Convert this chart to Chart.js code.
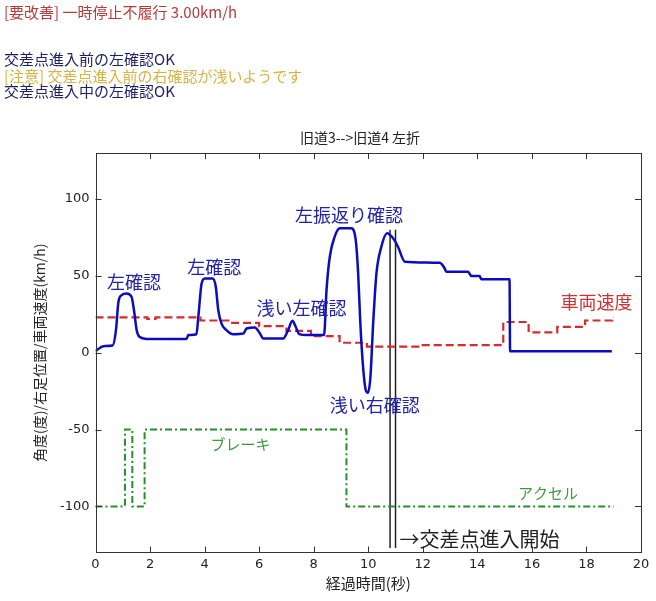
<!DOCTYPE html>
<html lang="ja">
<head>
<meta charset="UTF-8">
<title>旧道3-->旧道4 左折</title>
<script src="https://cdn.jsdelivr.net/npm/chart.js@4.4.1/dist/chart.umd.min.js"></script>
<style>
  body { margin: 0; background: #fff; font-family: "Noto Sans CJK JP", sans-serif; }
  #wrap { position: relative; width: 656px; height: 601px; }
  #chart { position: absolute; left: 0; top: 0; }
  .msg { position: absolute; left: 4px; font-size: 15px; line-height: 18px; white-space: nowrap; }
  .bad { color: #b83a3a; }
  .ok { color: #1e1e66; }
  .warn { color: #d6b443; }
</style>
</head>
<body>
<div id="wrap">
  <canvas id="chart" width="656" height="601"></canvas>
  <div class="msg bad" style="top:3px">[要改善] 一時停止不履行 3.00km/h</div>
  <div class="msg ok" style="top:50px">交差点進入前の左確認OK</div>
  <div class="msg warn" style="top:67px">[注意] 交差点進入前の右確認が浅いようです</div>
  <div class="msg ok" style="top:82px">交差点進入中の左確認OK</div>
</div>
<script>
// --- data (time in s) ---
// head angle (deg)
const angleT = [0, 0.29, 0.63, 0.75, 0.84, 0.96, 1.14, 1.32, 1.41, 1.51, 1.61, 1.87, 3.34, 3.4, 3.7, 3.77,
  3.89, 4.01, 4.29, 4.41, 4.5, 4.62, 4.8, 5.05, 5.42, 5.54, 5.84, 6.03, 6.15, 6.88, 7.06, 7.22, 7.34,
  7.47, 7.73, 8.38, 8.47, 8.59, 8.77, 8.96, 9.38, 9.54, 9.63, 9.71, 9.81, 9.91, 9.99, 10.08, 10.18,
  10.3, 10.48, 10.69, 10.91, 11.09, 11.34, 12.62, 12.8, 12.86, 13.66, 13.78, 14.08, 14.15, 15.18, 15.2, 18.93];
const angleV = [1, 4.3, 4.7, 14.7, 33, 37.5, 38.6, 36.4, 27.8, 14.7, 10.4, 9, 9, 11.5, 12, 23.4,
  45, 48.4, 48.4, 43, 27.8, 19, 14.7, 12, 12.5, 15.8, 16.5, 12.6, 9.3, 9.3, 14.7, 20.8, 16.9,
  12.1, 11.5, 11.5, 40.8, 62.5, 75.6, 81, 81, 73.4, 51.7, 19.1, -9.2, -24.4, -26, -15.7, 19.1,
  51.7, 69, 77.8, 74.5, 69, 59.3, 58.6, 55, 52.7, 52.7, 49.9, 49.9, 47.8, 47.8, 1, 1];

// vehicle speed (km/h), step starts
const speedT = [0, 1.9, 2.2, 3.85, 4.95, 6.0, 7.0, 7.9, 8.95, 9.95, 11.95, 14.95, 15.88, 16.93, 17.95, 18.95, 19.0];
const speedV = [23, 22, 23, 21, 19.5, 17.3, 14.3, 10.8, 6.5, 4, 5, 20, 13.3, 16.9, 21, 23, 23];

// right foot position: -50 brake, -100 accel, step starts
const pedalT = [0, 1.08, 1.35, 1.8, 9.2, 19.0];
const pedalV = [-100, -50, -100, -50, -100, -100];

// intersection entry markers
const entryT = [10.8, 11.0];
const entryV = [80, -127];

// annotations [text, t, value]
const labelText = ['左確認', '左確認', '浅い左確認', '左振返り確認', '浅い右確認', '車両速度', 'ブレーキ', 'アクセル'];
const labelT = [1.41, 4.35, 7.55, 9.29, 10.24, 18.37, 5.32, 16.59];
const labelV = [46, 56, 29, 89.4, -34, 33.2, -59.6, -91.2];
const labelColor = ['#2222a8', '#2222a8', '#2222a8', '#2222a8', '#2222a8', '#d43232', '#3c9a3c', '#3c9a3c'];
const labelSize = [18, 18, 18, 18, 18, 18, 15, 15];

const entryText = '→交差点進入開始';
const entryTextT = 11.15, entryTextV = -121.5;

const xTickStep = 2;
const yTickStep = 50;

const pts = (ts, vs) => ts.map((t, i) => ({ x: t, y: vs[i] }));
const cjk = '"Noto Sans CJK JP", sans-serif';
const num = '"DejaVu Sans", "Noto Sans CJK JP", sans-serif';

const overlay = {
  id: 'overlay',
  afterDatasetsDraw(chart) {
    const { ctx, chartArea: a, scales: { x, y } } = chart;
    ctx.save();
    ctx.strokeStyle = '#333';
    ctx.lineWidth = 1;
    ctx.strokeRect(Math.round(a.left) + 0.5, Math.round(a.top) + 0.5, Math.round(a.width) - 1, Math.round(a.height) - 1);
    // MATLAB style inward ticks on all sides
    ctx.beginPath();
    x.ticks.forEach(t => {
      const px = Math.round(x.getPixelForValue(t.value)) + 0.5;
      ctx.moveTo(px, a.bottom); ctx.lineTo(px, a.bottom - 6);
      ctx.moveTo(px, a.top); ctx.lineTo(px, a.top + 6);
    });
    y.ticks.forEach(t => {
      const py = Math.round(y.getPixelForValue(t.value)) + 0.5;
      ctx.moveTo(a.left, py); ctx.lineTo(a.left + 6, py);
      ctx.moveTo(a.right, py); ctx.lineTo(a.right - 6, py);
    });
    ctx.stroke();

    // title
    ctx.fillStyle = '#222';
    ctx.font = '14px ' + cjk;
    ctx.textAlign = 'center';
    ctx.textBaseline = 'middle';
    ctx.fillText('旧道3-->旧道4 左折', 360, a.top - 15);

    // annotations
    labelText.forEach((txt, i) => {
      ctx.fillStyle = labelColor[i];
      ctx.font = labelSize[i] + 'px ' + cjk;
      ctx.fillText(txt, x.getPixelForValue(labelT[i]), y.getPixelForValue(labelV[i]));
    });
    ctx.fillStyle = '#222';
    ctx.font = '20px ' + cjk;
    ctx.textAlign = 'left';
    ctx.fillText(entryText, x.getPixelForValue(entryTextT), y.getPixelForValue(entryTextV));
    ctx.restore();
  }
};

new Chart(document.getElementById('chart'), {
  type: 'line',
  data: {
    datasets: [
      { data: pts(angleT, angleV), borderColor: '#0c0cbf', borderWidth: 2.5, cubicInterpolationMode: 'monotone' },
      { data: pts(speedT, speedV), borderColor: '#d82a2a', borderWidth: 2.2, borderDash: [8, 4], stepped: 'before' },
      { data: pts(pedalT, pedalV), borderColor: '#2a8c2a', borderWidth: 2, borderDash: [7, 3, 2, 3], stepped: 'before' },
      { data: [{ x: entryT[0], y: entryV[0] }, { x: entryT[0], y: entryV[1] }], borderColor: '#222', borderWidth: 1.5 },
      { data: [{ x: entryT[1], y: entryV[0] }, { x: entryT[1], y: entryV[1] }], borderColor: '#222', borderWidth: 1.5 }
    ]
  },
  options: {
    responsive: false,
    animation: false,
    events: [],
    layout: { padding: { left: 0, right: 15, top: 153, bottom: 0 } },
    elements: { point: { radius: 0 }, line: { borderCapStyle: 'butt' } },
    plugins: { legend: { display: false }, tooltip: { enabled: false } },
    scales: {
      x: {
        type: 'linear', min: 0, max: 20,
        ticks: { stepSize: xTickStep, color: '#222', font: { family: num, size: 13 }, padding: 4, maxRotation: 0 },
        grid: { display: false, drawTicks: false },
        border: { display: false },
        title: { display: true, text: '経過時間(秒)', color: '#222', font: { family: cjk, size: 15 }, padding: { top: 0, bottom: 9 } },
        afterFit: s => { s.height = 48.5; }
      },
      y: {
        type: 'linear', min: -130, max: 130,
        ticks: { stepSize: yTickStep, color: '#222', font: { family: num, size: 13 }, padding: 6 },
        afterBuildTicks: s => { s.ticks = s.ticks.filter(t => t.value % yTickStep === 0); },
        grid: { display: false, drawTicks: false },
        border: { display: false },
        title: { display: true, text: '角度(度)/右足位置/車両速度(km/h)', color: '#222', font: { family: cjk, size: 14 }, padding: { top: 31 } },
        afterFit: s => { s.width = 95.5; }
      }
    }
  },
  plugins: [overlay]
});
</script>
</body>
</html>
